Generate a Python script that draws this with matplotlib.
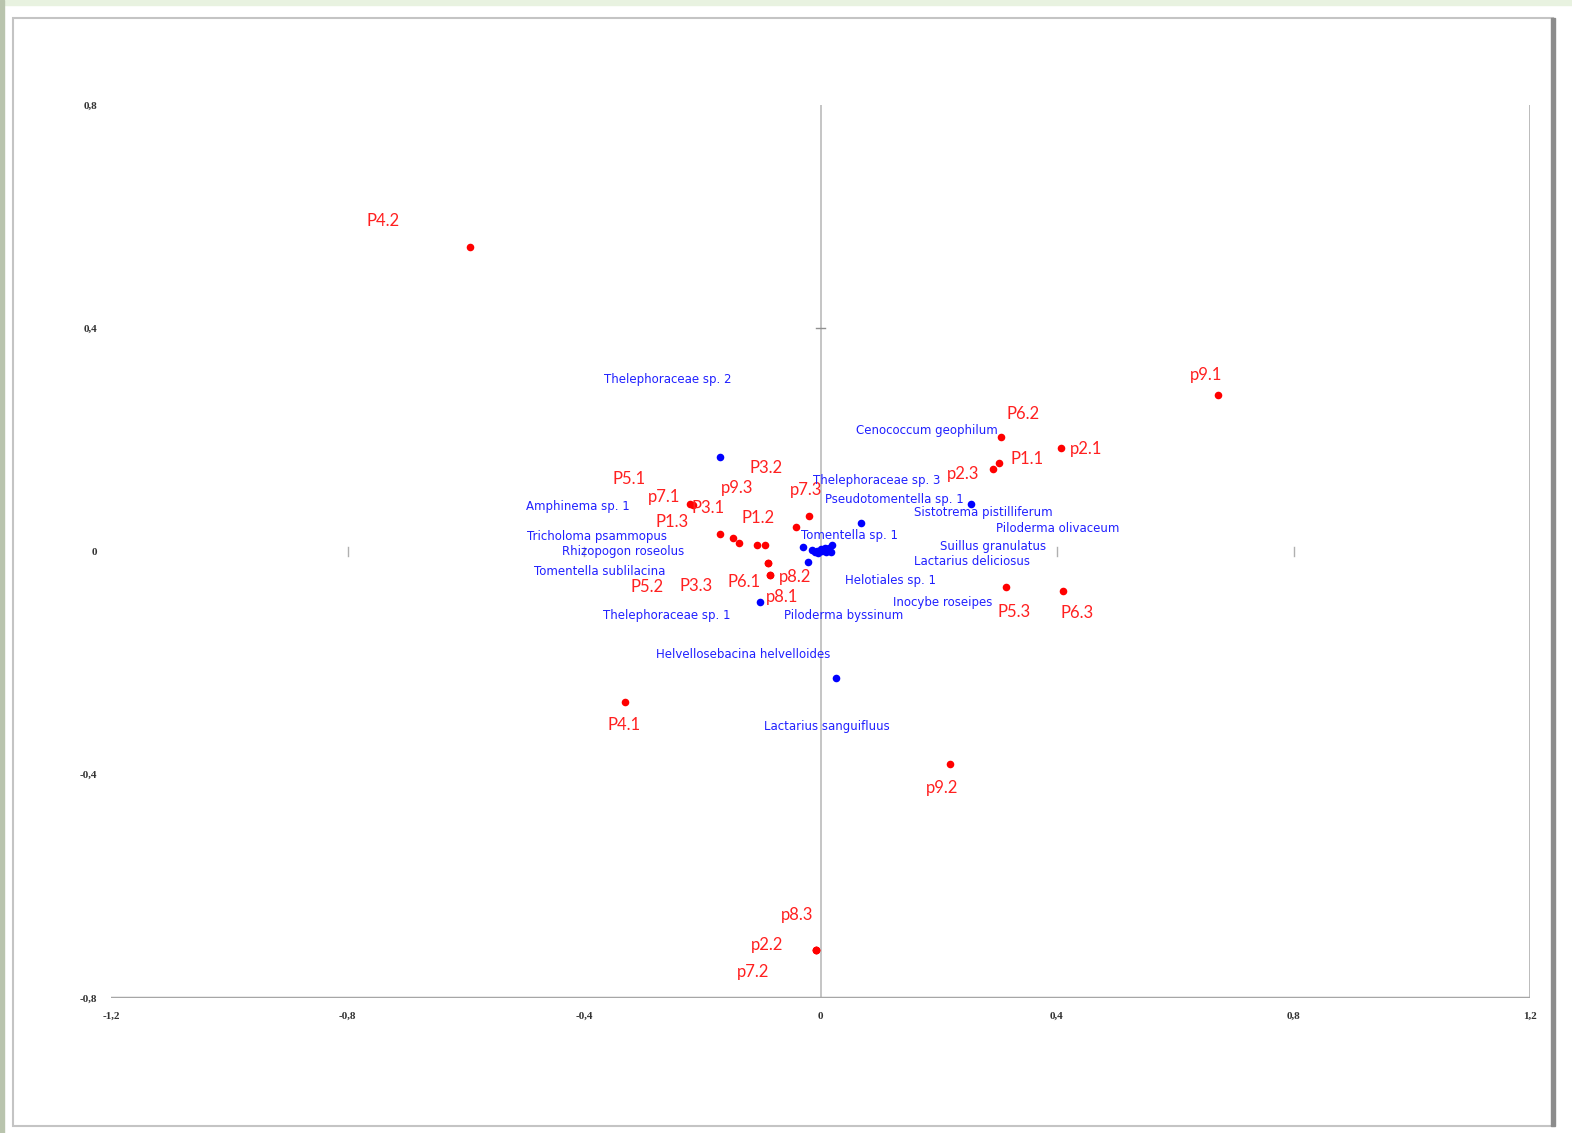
import matplotlib
matplotlib.use("Agg")
import matplotlib.pyplot as plt
from matplotlib.patches import Rectangle

# sample scores (red)
sites = ["P4.2", "p9.1", "P6.2", "p2.1", "P1.1", "p2.3", "P5.3", "P6.3", "P4.1",
         "p9.2", "p8.3", "p2.2", "p7.2", "p7.1", "P3.1", "P5.1", "P1.3", "p9.3",
         "P1.2", "P6.1", "P3.2", "p7.3", "P5.2", "P3.3", "p8.2", "p8.1"]
site_x = [-0.593, 0.673, 0.305, 0.407, 0.302, 0.292, 0.314, 0.410, -0.331,
          0.219, -0.008, -0.008, -0.008, -0.221, -0.216, -0.170, -0.148, -0.138,
          -0.107, -0.094, -0.041, -0.019, -0.089, -0.089, -0.085, -0.085]
site_y = [0.546, 0.280, 0.205, 0.185, 0.159, 0.148, -0.064, -0.071, -0.270,
          -0.381, -0.714, -0.714, -0.714, 0.085, 0.084, 0.031, 0.024, 0.015,
          0.012, 0.012, 0.044, 0.064, -0.021, -0.021, -0.042, -0.042]

# species scores (blue)
species = ["Thelephoraceae sp. 2", "Sistotrema pistilliferum", "Pseudotomentella sp. 1",
           "Lactarius sanguifluus", "Thelephoraceae sp. 1", "Helvellosebacina helvelloides",
           "Tomentella sp. 1", "Cenococcum geophilum", "Thelephoraceae sp. 3",
           "Piloderma olivaceum", "Suillus granulatus", "Lactarius deliciosus",
           "Helotiales sp. 1", "Inocybe roseipes", "Piloderma byssinum",
           "Amphinema sp. 1", "Tricholoma psammopus", "Rhizopogon roseolus",
           "Tomentella sublilacina"]
sp_x = [-0.170, 0.255, 0.068, 0.026, -0.102, -0.021, -0.030, -0.014, -0.006,
        0.003, 0.011, 0.019, 0.018, 0.008, -0.009, 0.000, 0.014, -0.004, 0.009]
sp_y = [0.169, 0.085, 0.051, -0.227, -0.091, -0.019, 0.008, 0.003, 0.001,
        0.001, 0.003, 0.012, -0.001, 0.006, -0.001, 0.004, 0.006, -0.003, -0.001]

xticks = [-1.2, -0.8, -0.4, 0, 0.4, 0.8, 1.2]
xtick_labels = ["-1,2", "-0,8", "-0,4", "0", "0,4", "0,8", "1,2"]
yticks = [-0.8, -0.4, 0, 0.4, 0.8]
ytick_labels = ["-0,8", "-0,4", "0", "0,4", "0,8"]

# label offsets in pixels (dx, dy up) from each point
site_off = {"P4.2": (-87, 26), "p9.1": (-12, 20), "P6.2": (22, 23), "p2.1": (25, -1),
            "P1.1": (28, 4), "p2.3": (-30, -5), "P5.3": (8, -25), "P6.3": (14, -22),
            "P4.1": (-1, -23), "p9.2": (-8, -24), "p8.3": (-19, 35), "p2.2": (-49, 5),
            "p7.2": (-63, -22), "p7.1": (-26, 7), "P3.1": (15, -3), "P5.1": (-91, 55),
            "P1.3": (-61, 16), "p9.3": (-2, 55), "P1.2": (1, 27), "P6.1": (-21, -37),
            "P3.2": (-30, 59), "p7.3": (-3, 26), "P5.2": (-121, -24), "P3.3": (-72, -23),
            "p8.2": (25, -2), "p8.1": (12, -22)}
sp_off = {"Thelephoraceae sp. 2": (-52, 78), "Sistotrema pistilliferum": (12, -8),
          "Pseudotomentella sp. 1": (34, 24), "Lactarius sanguifluus": (-9, -48),
          "Thelephoraceae sp. 1": (-93, -13), "Helvellosebacina helvelloides": (-65, -92),
          "Tomentella sp. 1": (47, 12), "Cenococcum geophilum": (115, 119),
          "Thelephoraceae sp. 3": (60, 70), "Piloderma olivaceum": (235, 22),
          "Suillus granulatus": (166, 3), "Lactarius deliciosus": (140, -17),
          "Helotiales sp. 1": (59, -28), "Inocybe roseipes": (117, -54),
          "Piloderma byssinum": (28, -63), "Amphinema sp. 1": (-243, 43),
          "Tricholoma psammopus": (-232, 12), "Rhizopogon roseolus": (-195, 2),
          "Tomentella sublilacina": (-226, -19)}

W, H = 1572, 1133
fig = plt.figure(figsize=(W / 100, H / 100), dpi=100)
fig.patch.set_facecolor("white")

# page background and frame
fig.add_artist(Rectangle((0, 1 - 5 / H), 1, 5 / H, transform=fig.transFigure,
                         color="#e8f2e0", zorder=0))
fig.add_artist(Rectangle((0, 0), 4 / W, 1, transform=fig.transFigure,
                         color="#b9c4ad", zorder=0))
fig.add_artist(Rectangle((13 / W, 1 - 1126 / H), 1540 / W, 1108 / H,
                         transform=fig.transFigure, facecolor="white",
                         edgecolor="#c4c4c4", lw=1.5, zorder=0))
fig.add_artist(Rectangle((1551 / W, 1 - 1126 / H), 4 / W, 1108 / H,
                         transform=fig.transFigure, color="#8c8c8c", zorder=1))

ax = fig.add_axes([111 / W, 1 - 998 / H, 1419 / W, 893 / H])
ax.set_xlim(-1.2, 1.2)
ax.set_ylim(-0.8, 0.8)
for s in ax.spines.values():
    s.set_visible(False)

# axis lines
ax.axvline(0, color="#c0c0c0", lw=1.3, zorder=1)
ax.axvline(1.2, color="#b0b0b0", lw=1.2, zorder=1)
ax.axhline(-0.8, color="#a6a6a6", lw=2.5, zorder=1)
for t in [-0.8, -0.4, 0.4, 0.8]:
    ax.plot([t, t], [-0.008, 0.008], color="#b0b0b0", lw=1, zorder=1)
ax.plot([-0.008, 0.008], [0.4, 0.4], color="#909090", lw=1, zorder=1)

ax.set_xticks(xticks)
ax.set_xticklabels(xtick_labels)
ax.set_yticks(yticks)
ax.set_yticklabels(ytick_labels)
ax.tick_params(length=0, labelsize=8, labelcolor="#333333", pad=10)
for lbl in ax.get_xticklabels() + ax.get_yticklabels():
    lbl.set_family(["Liberation Serif", "DejaVu Serif"])
    lbl.set_fontweight("bold")

ax.scatter(site_x, site_y, s=30, color="#ff0000", zorder=3, linewidths=0)
ax.scatter(sp_x, sp_y, s=30, color="#0000ff", zorder=3, linewidths=0)

for name, x, y in zip(sites, site_x, site_y):
    dx, dy = site_off[name]
    ax.annotate(name, (x, y), xytext=(dx, dy), textcoords="offset pixels",
                ha="center", va="center", fontsize=12, color="#ff2020",
                family=["Lato", "DejaVu Sans"], zorder=4)

for name, x, y in zip(species, sp_x, sp_y):
    dx, dy = sp_off[name]
    ax.annotate(name, (x, y), xytext=(dx, dy), textcoords="offset pixels",
                ha="center", va="center", fontsize=8.5, color="#2020ff",
                family=["Liberation Sans Narrow", "DejaVu Sans"], zorder=4)

fig.savefig("out.png", dpi=100, facecolor=fig.get_facecolor())
